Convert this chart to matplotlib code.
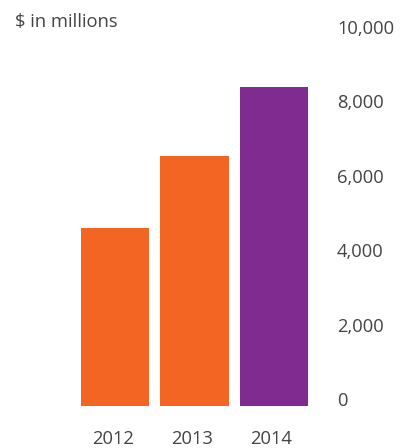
import matplotlib
matplotlib.use("Agg")
import matplotlib.pyplot as plt
from matplotlib.transforms import blended_transform_factory

years = ["2012", "2013", "2014"]
values = [4790, 6730, 8570]
colors = ["#F26522", "#F26522", "#7F2B8F"]
yticks = [0, 2000, 4000, 6000, 8000, 10000]
ytick_labels = ["0", "2,000", "4,000", "6,000", "8,000", "10,000"]

plt.rcParams['font.family'] = ['Open Sans', 'DejaVu Sans']

fig = plt.figure(figsize=(4.03, 4.48), dpi=100)
ax = fig.add_axes([75.4/403, 42/448, 238.2/403, 372/448])
x = range(len(years))
ax.bar(x, values, width=0.86, color=colors, edgecolor='none')
ax.set_xlim(-0.5, 2.5)
ax.set_ylim(0, 10000)
for s in ax.spines.values():
    s.set_visible(False)
ax.set_xticks([])
ax.set_yticks([])

tr = blended_transform_factory(fig.transFigure, ax.transData)
for v, lab in zip(yticks, ytick_labels):
    ax.text(337/403, v, lab, transform=tr, ha='left', va='baseline',
            fontsize=13.2, color='#444444')

trx = blended_transform_factory(ax.transData, fig.transFigure)
for i, yr in enumerate(years):
    ax.text(i - 0.03, (448-444)/448, yr, transform=trx, ha='center', va='baseline',
            fontsize=13.2, color='#444444')

fig.text(15/403, (448-27)/448, "$ in millions", ha='left', va='baseline',
         fontsize=13.2, color='#444444')

fig.savefig("out.png", dpi=100)
